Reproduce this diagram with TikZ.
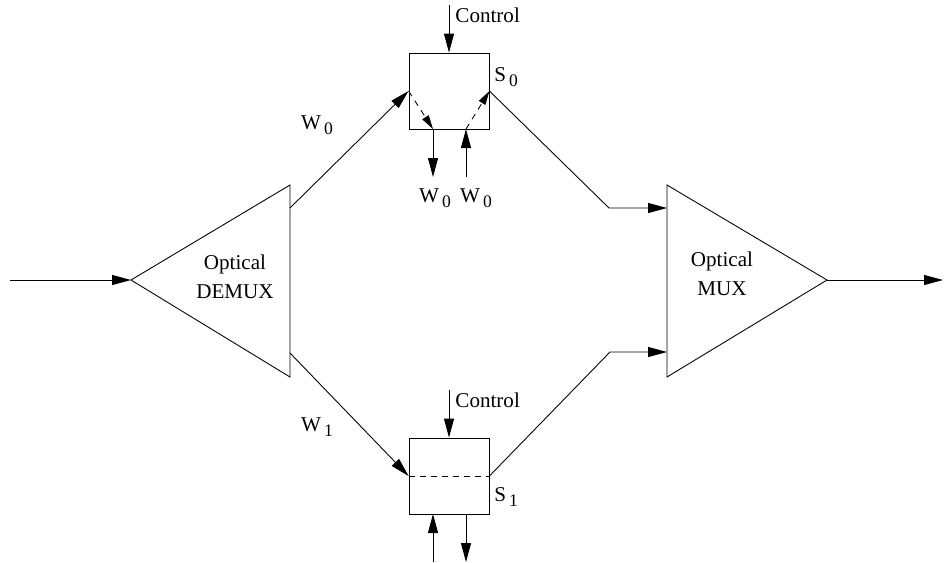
\documentclass[tikz,border=0pt]{standalone}
\usepackage{fontspec}
\setmainfont{Liberation Serif}
\usetikzlibrary{arrows.meta,positioning}

\newcommand{\sublab}[2]{#1\raisebox{-0.45ex}{\fontsize{10}{10}\selectfont\,#2}}

\begin{document}
\begin{tikzpicture}[x=0.02cm,y=-0.02cm,line width=0.5pt,
  arr/.style={-{Triangle[length=3.8mm,width=2mm]}},
  darr/.style={dash pattern=on 1.2mm off 1.1mm,-{Triangle[length=2.8mm,width=1.5mm]}},
  lab/.style={font=\fontsize{12}{16.5}\selectfont,inner sep=0pt},
  switchbox/.style={draw,minimum width=1.6cm,minimum height=1.52cm,inner sep=0pt}]
\useasboundingbox (0,0) rectangle (944,562);
\coordinate (in) at (10,280);
\coordinate (dA) at (131,280);
\coordinate (dT) at (290,185);
\coordinate (dB) at (290,377);
\coordinate (d0) at (290,208);
\coordinate (d1) at (290,353);
\draw (dA) -- (dT) -- (dB) -- cycle;
\node (demux) [lab,align=center] at (235,277) {Optical\\DEMUX};
\coordinate (mT) at (667,185);
\coordinate (mB) at (667,377);
\coordinate (mA) at (827,280);
\coordinate (out) at (943,280);
\draw (mT) -- (mA) -- (mB) -- cycle;
\node (mux) [lab,align=center] at (722,274) {Optical\\MUX};
\draw[arr] (in) -- (dA);
\draw[arr] (mA) -- (out);
\node (s0) [switchbox] at (449,91) {};
\node (s1) [switchbox] at (449,476) {};
\node (s0lab) [lab,anchor=west] at (494,77) {\sublab{S}{0}};
\node (s1lab) [lab,anchor=west] at (494,497) {\sublab{S}{1}};
\coordinate (c0) at (449,5);
\coordinate (c1) at (449,390);
\draw[arr] (c0) -- (s0.north);
\draw[arr] (c1) -- (s1.north);
\node (ctl0) [lab,anchor=west] at (455,15) {Control};
\node (ctl1) [lab,anchor=west] at (455,400) {Control};
\draw[arr] (d0) -- (s0.west);
\draw[arr] (d1) -- (s1.west);
\node (w0) [lab] at (317,125) {\sublab{W}{0}};
\node (w1) [lab] at (317,427) {\sublab{W}{1}};
\coordinate (k0) at (609,208);
\coordinate (k1) at (610,352);
\draw[arr] (s0.east) -- (k0) -- (mT |- k0);
\draw[arr] (s1.east) -- (k1) -- (mT |- k1);
\coordinate (s0o) at (433,129);
\coordinate (s0oe) at (433,177);
\coordinate (s0i) at (466,129);
\coordinate (s0ie) at (466,177);
\draw[darr] (s0.west) -- (s0o);
\draw[darr] (s0i) -- (s0.east);
\draw[arr] (s0o) -- (s0oe);
\draw[arr] (s0ie) -- (s0i);
\node (w0drop) [lab] at (435,198) {\sublab{W}{0}};
\node (w0add) [lab] at (476,198) {\sublab{W}{0}};
\draw[dash pattern=on 1.2mm off 1mm] (s1.west) -- (s1.east);
\coordinate (s1i) at (433,514);
\coordinate (s1ie) at (433,562);
\coordinate (s1o) at (466,514);
\coordinate (s1oe) at (466,562);
\draw[arr] (s1ie) -- (s1i);
\draw[arr] (s1o) -- (s1oe);
\end{tikzpicture}
\end{document}
